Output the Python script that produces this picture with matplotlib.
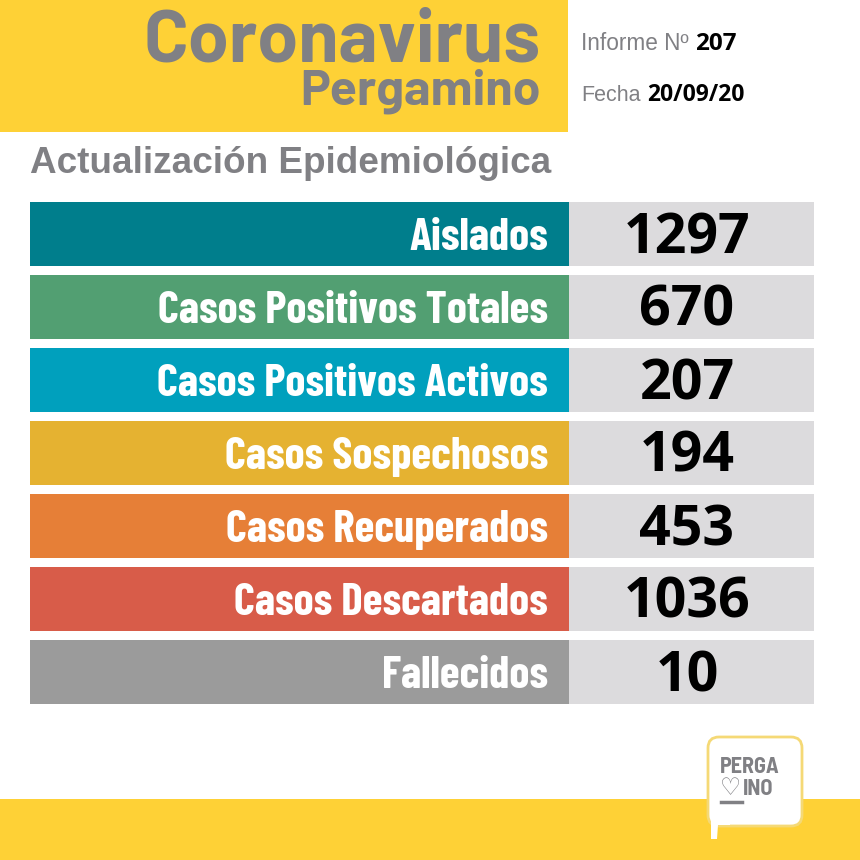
import matplotlib
matplotlib.use("Agg")
import matplotlib.pyplot as plt
from matplotlib.patches import FancyBboxPatch, Rectangle, Polygon

categories = ["Aislados", "Casos Positivos Totales", "Casos Positivos Activos",
              "Casos Sospechosos", "Casos Recuperados", "Casos Descartados", "Fallecidos"]
values = [1297, 670, 207, 194, 453, 1036, 10]
colors = ["#007e8c", "#529f72", "#00a0bd", "#e5b231", "#e67f37", "#d85c49", "#9b9b9b"]

YELLOW = "#fed136"
GREY = "#808084"
NARROW = ["Barlow Condensed", "Roboto Condensed", "Open Sans"]
SEMI = ["Barlow Semi Condensed", "Roboto Condensed", "Open Sans"]
DIN = ["Barlow", "Open Sans"]
ARIAL = "Liberation Sans"

fig = plt.figure(figsize=(8.6, 8.6), dpi=100)
ax = fig.add_axes([0, 0, 1, 1])
ax.set_xlim(0, 860)
ax.set_ylim(860, 0)
ax.axis("off")

# header
ax.add_patch(Rectangle((0, 0), 568, 132, color=YELLOW, lw=0))
ax.add_patch(Rectangle((0, 799), 860, 61, color=YELLOW, lw=0))
ax.text(541, 62, "Coronavirus", ha="right", va="baseline", fontsize=53,
        fontweight="bold", color=GREY, family=DIN)
ax.text(541, 104, "Pergamino", ha="right", va="baseline",
        fontsize=36, fontweight="bold", color=GREY, family=DIN)
ax.text(581, 50, "Informe Nº", ha="left", va="baseline", fontsize=16.3, color=GREY, family=ARIAL)
ax.text(695, 50, "207", ha="left", va="baseline", fontsize=17.5, fontweight="bold", color="black", family="Open Sans")
ax.text(581, 101, "Fecha", ha="left", va="baseline", fontsize=15.5, color=GREY, family=ARIAL)
ax.text(647, 101, "20/09/20", ha="left", va="baseline", fontsize=16.5, fontweight="bold", color="black", family="Open Sans")
ax.text(30, 173, "Actualización Epidemiológica", ha="left", va="baseline", fontsize=26.6, fontweight="bold",
        color=GREY, family=ARIAL)

# rows
row_top, row_step, row_h = 202, 73, 64
y = [row_top + row_h / 2 + i * row_step for i in range(len(categories))]
ax.barh(y, [539] * len(y), left=30, height=row_h, color=colors, lw=0)
ax.barh(y, [245] * len(y), left=569, height=row_h, color="#dcdbdd", lw=0)
for yy, name, val in zip(y, categories, values):
    ax.text(548, yy + 16, name, ha="right", va="baseline", fontsize=32.6, fontweight="bold",
            color="white", family=NARROW)
    ax.text(687, yy + 19, str(val), ha="center", va="baseline", fontsize=40, fontweight="bold",
            color="black", family="Open Sans")

# logo
ax.add_patch(FancyBboxPatch((708, 737), 94, 89, boxstyle="round,pad=0,rounding_size=11",
                            fc="white", ec="#f5d976", lw=2, zorder=3))
ax.add_patch(Polygon([(711, 815), (711, 839), (717, 839), (718, 825), (730, 825), (730, 815)],
                     fc="white", ec="none", zorder=4))
ax.text(720, 773, "PERGA", ha="left", va="baseline", fontsize=16, fontweight="bold", color=GREY, family=SEMI, zorder=6)
ax.text(743, 795, "INO", ha="left", va="baseline", fontsize=16, fontweight="bold", color=GREY, family=SEMI, zorder=6)
ax.plot([721, 742], [802, 802], color=GREY, lw=2.5, zorder=6)
ax.text(720, 795, "♡", ha="left", va="baseline", fontsize=17, fontweight="bold", color=GREY, family="DejaVu Sans", zorder=6)

fig.savefig("out.png", dpi=100)
